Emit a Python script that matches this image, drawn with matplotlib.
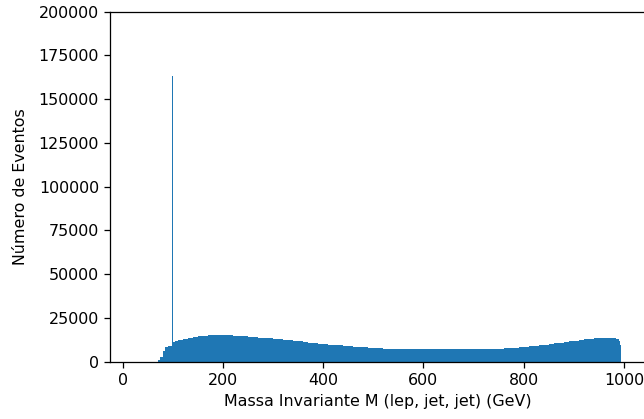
import numpy as np
import matplotlib
matplotlib.use('Agg')
from matplotlib import pyplot as plt

# bin edges (GeV) and event counts
edges_low = [70, 75, 80, 85, 90, 95, 99.5, 100.5, 105, 110]
edges_mid = list(np.arange(120, 990, 10))
edges_high = [985, 990, 993, 995]
edges = edges_low + edges_mid + edges_high

counts_low = [800, 2500, 6000, 8300, 8700, 8900, 163500, 11000, 11600, 12200]
counts_mid = [13000, 13600, 14200, 14600, 14800, 14900, 15000, 15000, 15000, 14900,
              14800, 14500, 14300, 14100, 13900, 13700, 13500, 13200, 12900, 12700,
              12400, 12100, 11800, 11500, 11100, 10800, 10500, 10200, 9900, 9700,
              9500, 9300, 9000, 8700, 8500, 8300, 8100, 7900, 7700, 7500,
              7400, 7300, 7300, 7300, 7300, 7200, 7200, 7200, 7200, 7200,
              7200, 7200, 7200, 7200, 7200, 7200, 7200, 7200, 7200, 7300,
              7300, 7300, 7300, 7400, 7500, 7800, 8000, 8200, 8400, 8700,
              9000, 9300, 9600, 9900, 10300, 10700, 11100, 11500, 11900, 12300,
              12600, 12900, 13200, 13400, 13600, 13700, 13700]
counts_high = [13600, 13100, 12000, 9500]
counts = counts_low + counts_mid[:86] + counts_high

x_ticks = [0, 200, 400, 600, 800, 1000]
y_ticks = [0, 25000, 50000, 75000, 100000, 125000, 150000, 175000, 200000]


def main():
  dpi = 114
  fig = plt.figure(figsize=(644/dpi, 419/dpi), dpi=dpi)
  # axes run slightly past the right edge, as in the cropped original
  ax = fig.add_axes([110/644, (419-361.5)/419, 536/644, 349.8/419])

  ax.hist(edges[:-1], bins=edges, weights=counts, histtype='stepfilled',
          color='#1f77b4')

  ax.set_xlim(-25, 1044)
  ax.set_ylim(0, 200000)
  ax.set_xticks(x_ticks)
  ax.set_yticks(y_ticks)
  ax.set_xlabel('Massa Invariante M (lep, jet, jet) (GeV)')
  ax.set_ylabel('Número de Eventos', labelpad=6.5)

  fig.savefig('out.png', dpi=dpi)


if __name__ == '__main__':
  main()
